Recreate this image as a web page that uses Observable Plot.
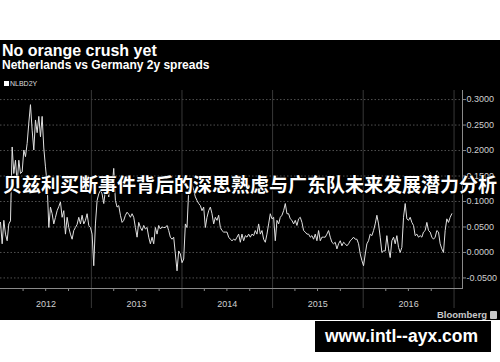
<!DOCTYPE html>
<html><head><meta charset="utf-8">
<script src="https://cdn.jsdelivr.net/npm/d3@7"></script>
<script src="https://cdn.jsdelivr.net/npm/@observablehq/plot@0.6"></script>
<style>
html,body{margin:0;padding:0;}
body{width:500px;height:362px;background:#fff;position:relative;overflow:hidden;font-family:"Liberation Sans",Arial,sans-serif;}
#panel{position:absolute;left:0;top:40px;width:500px;height:280px;background:#000;}
#panel svg{position:absolute;left:0;top:0;overflow:visible;}
.t{position:absolute;white-space:nowrap;line-height:1;}
#title{left:2px;top:3px;color:#fff;font-weight:bold;font-size:16px;}
#subtitle{left:2px;top:18.5px;color:#fff;font-weight:bold;font-size:12px;}
#legend{left:4px;top:39.5px;color:#ddd;font-size:7px;}
#legend span{display:inline-block;width:5px;height:5px;background:#fff;margin-right:1px;vertical-align:0px;}
#bbg{left:437px;top:270px;color:#c8c8c8;font-weight:bold;font-size:9.5px;}
#bbg i{display:inline-block;width:7px;height:8px;background:#c8c8c8;border-radius:1px;margin-left:3px;vertical-align:-1px;}
#overlay{left:3px;top:174px;color:#fff;font-family:"Noto Sans CJK SC",sans-serif;font-weight:bold;font-size:19px;letter-spacing:0px;text-shadow:0 0 1px #000,0 0 2px #000,1px 1px 1px #000;}
#wm{position:absolute;left:315px;top:321px;width:176px;height:31px;background:#000;}
#wm div{position:absolute;left:10px;top:7px;color:#fff;font-weight:bold;font-size:17.5px;line-height:1;white-space:nowrap;}
</style>
</head><body>
<div id="panel"></div>
<div id="wm"><div id="wmtext"></div></div>
<script>
// ---- chart texts ----
const titleText = "No orange crush yet";
const subtitleText = "Netherlands vs Germany 2y spreads";
const seriesName = "NLBD2Y";
const overlayText = "贝兹利买断事件背后的深思熟虑与广东队未来发展潜力分析";
const watermarkText = "www.intl--ayx.com";
const sourceText = "Bloomberg";

// ---- axes ----
const yTicks = [-0.05, 0, 0.05, 0.10, 0.15, 0.20, 0.25, 0.30];
const yearLabels = ["2012", "2013", "2014", "2015", "2016"];
const yearStarts = ["2013-01-01", "2014-01-01", "2015-01-01", "2016-01-01", "2017-01-01"];
const quarterTicks = ["2012-04-01","2012-07-01","2012-10-01","2013-04-01","2013-07-01","2013-10-01",
  "2014-04-01","2014-07-01","2014-10-01","2015-04-01","2015-07-01","2015-10-01",
  "2016-04-01","2016-07-01","2016-10-01"];

// ---- series (NL vs DE 2y spread, roughly weekly) ----
const firstDate = "2012-01-01";
const lastDate = "2016-12-23";
const v2012 = [0.059,0.017,0.063,0.036,0.023,0.056,0.062,0.207,0.155,0.181,0.135,0.181,0.155,0.158,0.201,0.188,0.214,0.254,0.290,0.240,
  0.201,0.260,0.235,0.267,0.227,0.267,0.205,0.168,0.135,0.049,0.089,0.076,0.056,0.069,0.082,0.090,0.099,0.069,0.082,0.036,
  0.069,0.049,0.036,0.026,0.043,0.049,0.055,0.069,0.056,0.073,0.056,0.063,0.076,0.053];
const v2013 = [0.049,0.036,-0.026,0.056,0.102,0.115,0.122,0.115,0.096,0.122,0.128,0.109,0.142,0.128,0.165,0.102,0.089,0.092,0.073,0.059,
  0.063,0.073,0.079,0.075,0.069,0.076,0.069,0.049,0.030,0.059,0.049,0.043,0.053,0.046,0.049,0.030,0.017,0.030,0.017,0.049,
  0.036,0.053,0.046,0.050,0.049,0.049,0.053,0.043,0.030,0.026,0.030,-0.003,-0.036,0.003];
const v2014 = [-0.003,-0.020,-0.013,0.056,0.049,0.122,0.128,0.135,0.122,0.109,0.102,0.096,0.092,0.082,0.089,0.049,0.069,0.082,0.089,0.076,
  0.056,0.069,0.063,0.073,0.049,0.043,0.040,0.040,0.040,0.030,0.026,0.023,0.026,0.024,0.030,0.036,0.020,0.036,0.023,0.033,
  0.030,0.036,0.030,0.036,0.033,0.043,0.036,0.056,0.036,0.043,0.026,0.020,0.036,0.056];
const v2015 = [0.076,0.066,0.069,0.023,0.063,0.056,0.069,0.073,0.082,0.096,0.076,0.076,0.066,0.063,0.056,0.063,0.053,0.066,0.069,0.059,
  0.043,0.040,0.036,0.036,0.030,0.033,0.026,0.036,0.023,0.043,0.023,0.030,0.030,0.030,0.036,0.043,0.030,0.020,0.017,0.020,
  0.007,0.017,0.023,0.013,0.020,0.017,0.013,0.017,0.023,0.026,0.030,0.026,0.026,0.017];
const v2016 = [-0.003,-0.016,-0.026,-0.003,0.017,0.023,0.036,0.033,0.043,0.056,0.073,0.056,0.030,0.000,0.003,0.003,0.033,0.007,-0.010,0.023,
  0.030,0.017,0.033,0.010,0.000,0.010,0.069,0.096,0.066,0.063,0.069,0.059,0.053,0.033,0.036,0.030,0.033,0.030,0.040,0.043,
  0.059,0.043,0.040,0.030,0.026,0.030,0.043,0.040,0.017,0.007,0.000,0.043,0.066,0.059,0.069,0.076];

const values = [...v2012, ...v2013, ...v2014, ...v2015, ...v2016];
const t0 = new Date(firstDate).getTime(), t1 = new Date(lastDate).getTime();
const data = values.map((v, i) => ({date: new Date(t0 + i * (t1 - t0) / (values.length - 1)), value: v}));
const last = data[data.length - 1];

const chart = Plot.plot({
  width: 500, height: 280,
  marginTop: 50, marginBottom: 32, marginLeft: 0, marginRight: 38,
  style: {background: "transparent", color: "#cfcfcf", fontFamily: "Liberation Sans, Arial, sans-serif", fontSize: "9px", overflow: "visible"},
  x: {type: "utc", domain: [new Date("2012-01-01"), new Date("2017-02-04")], label: null},
  y: {domain: [-0.0707, 0.3178], label: null},
  marks: [
    Plot.gridY(yTicks, {stroke: "#505050", strokeOpacity: 1, strokeDasharray: "1.5,2"}),
    Plot.ruleX(yearStarts.map(d => new Date(d)), {stroke: "#383838", insetBottom: -20}),
    Plot.frame({anchor: "bottom", stroke: "#8a8a8a"}),
    Plot.frame({anchor: "right", stroke: "#8a8a8a"}),
    Plot.axisX(quarterTicks.map(d => new Date(d)), {tickSize: 3, tickFormat: () => "", stroke: "#8a8a8a"}),
    Plot.axisX(yearLabels.map(y => new Date(`${y}-07-02`)), {tickSize: 0, tickPadding: 12, tickFormat: "%Y", fill: "#cfcfcf", fontSize: 9}),
    Plot.axisY(yTicks, {anchor: "right", tickSize: 3, tickPadding: 1, tickFormat: d => d.toFixed(4), fill: "#cfcfcf", stroke: "#8a8a8a", fontSize: 9}),
    Plot.line(data, {x: "date", y: "value", stroke: "#e0e0e0", strokeWidth: 1}),
    Plot.text([last], {y: "value", frameAnchor: "right", dx: 4, text: d => d.value.toFixed(4), textAnchor: "start", fill: "#000", fontSize: 9, ariaLabel: "lastvalue"})
  ]
});
const panel = document.getElementById("panel");
panel.appendChild(chart);

// label box behind the last value
const lv = chart.querySelector('g[aria-label="lastvalue"]');
if (lv) {
  const bb = lv.getBBox();
  const r = document.createElementNS("http://www.w3.org/2000/svg", "rect");
  r.setAttribute("x", bb.x - 1); r.setAttribute("y", bb.y);
  r.setAttribute("width", bb.width + 3); r.setAttribute("height", bb.height);
  r.setAttribute("fill", "#f2f2f2");
  lv.parentNode.insertBefore(r, lv);
}

function addText(id, txt, parent) {
  const d = document.createElement("div");
  d.id = id; d.className = "t"; d.textContent = txt;
  (parent || panel).appendChild(d);
  return d;
}
addText("title", titleText);
addText("subtitle", subtitleText);
const lg = addText("legend", seriesName);
lg.insertBefore(document.createElement("span"), lg.firstChild);
const bb = addText("bbg", sourceText);
bb.appendChild(document.createElement("i"));
const ov = addText("overlay", overlayText, document.body);
document.getElementById("wmtext").textContent = watermarkText;
</script>
</body></html>
